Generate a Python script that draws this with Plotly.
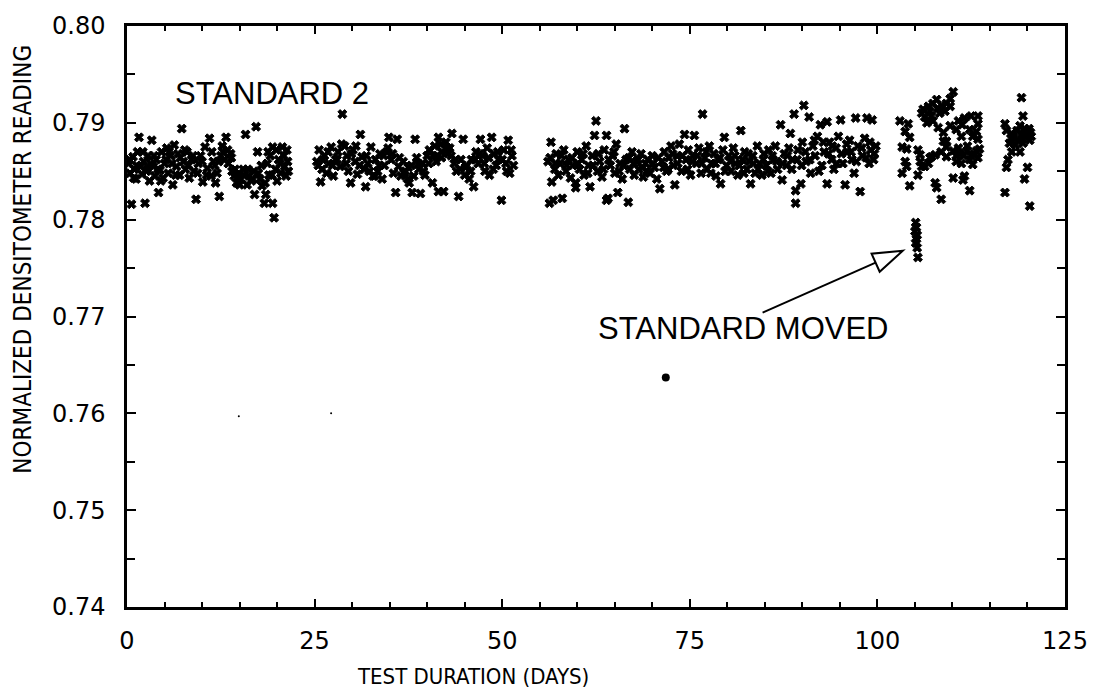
import plotly.graph_objects as go

# ---------------- data ----------------
seg_a_days = [0.2, 0.4, 0.6, 0.8, 1.0, 1.2, 1.4, 1.6, 1.8, 2.0, 2.2, 2.4, 2.6, 2.8, 3.0, 3.3, 3.5, 3.7, 3.9, 4.2,
              4.4, 4.6, 4.8, 5.0, 5.3, 5.5, 5.8, 6.1, 6.3, 6.6, 6.8, 7.0, 7.3, 7.5, 7.8, 8.0, 8.3, 8.6, 8.9, 9.2,
              9.5, 9.8, 10.1, 10.4, 10.7, 11.0, 11.2, 11.5, 11.8, 12.0, 12.3, 12.5, 12.8, 13.0, 13.2, 13.5, 13.8,
              14.0, 14.3, 14.6, 14.9, 15.2, 15.5, 15.8, 16.0, 16.3, 16.6, 16.9, 17.0, 17.2, 17.4, 17.7, 18.0,
              18.3, 18.5, 18.7, 18.9, 19.1, 19.4, 19.4, 19.6, 19.8, 20.0, 20.2, 20.5, 20.7, 21.0, 21.2, 21.4, 21.5,
              0.3, 0.9, 1.3, 2.1, 2.7, 3.1, 3.6, 4.1, 4.5, 5.2, 5.6, 6.0, 6.5, 7.1, 7.7, 8.2, 8.8, 9.4, 10.0, 10.6,
              11.3, 11.7, 12.2, 12.7, 13.4, 13.9, 14.4, 15.0, 15.6, 16.1, 16.7, 17.5, 17.9, 18.4, 18.8, 19.3, 19.9,
              20.4, 20.9, 21.3]
seg_a_vals = [0.7858, 0.7848, 0.7816, 0.7865, 0.7852, 0.7842, 0.7870, 0.7885, 0.7855, 0.7847, 0.7860, 0.7817,
              0.7850, 0.7866, 0.7840, 0.7882, 0.7855, 0.7845, 0.7862, 0.7828, 0.7851, 0.7870, 0.7843, 0.7858,
              0.7874, 0.7848, 0.7866, 0.7836, 0.7877, 0.7855, 0.7868, 0.7846, 0.7894, 0.7860, 0.7852, 0.7870,
              0.7843, 0.7862, 0.7850, 0.7821, 0.7858, 0.7866, 0.7839, 0.7875, 0.7853, 0.7884, 0.7845, 0.7860,
              0.7838, 0.7848, 0.7824, 0.7866, 0.7870, 0.7862, 0.7885, 0.7858, 0.7868, 0.7850, 0.7845, 0.7838,
              0.7848, 0.7842, 0.7852, 0.7888, 0.7836, 0.7845, 0.7840, 0.7850, 0.7826, 0.7896, 0.7870, 0.7842,
              0.7835, 0.7817, 0.7826, 0.7858, 0.7846, 0.7866, 0.7817, 0.7875, 0.7802, 0.7852, 0.7840, 0.7862,
              0.7848, 0.7875, 0.7855, 0.7845, 0.7860, 0.7850,
              0.7862, 0.7843, 0.7856, 0.7870, 0.7852, 0.7858, 0.7866, 0.7852, 0.7840, 0.7862, 0.7870, 0.7858,
              0.7846, 0.7864, 0.7872, 0.7856, 0.7866, 0.7848, 0.7860, 0.7846, 0.7870, 0.7856, 0.7860, 0.7876,
              0.7872, 0.7864, 0.7852, 0.7836, 0.7846, 0.7852, 0.7842, 0.7848, 0.7856, 0.7838, 0.7870, 0.7846,
              0.7872, 0.7858, 0.7866, 0.7872]

seg_b_days = [25.3, 25.6, 25.8, 26.0, 26.3, 26.6, 26.9, 27.2, 27.5, 27.8, 28.1, 28.4, 28.7, 29.0, 29.3, 29.5,
              29.8, 30.1, 30.4, 30.7, 31.1, 31.3, 31.6, 31.8, 32.1, 32.5, 32.8, 33.1, 33.4, 33.7, 34.0, 34.3,
              34.6, 34.9, 35.2, 35.5, 35.8, 36.0, 36.2, 36.5, 36.8, 37.1, 37.4, 37.6, 37.9, 38.0, 38.4, 38.6,
              38.9, 39.1, 39.4, 39.7, 40.0, 40.3, 40.7, 41.0, 41.3, 41.5, 41.5, 41.8, 42.0, 42.2, 42.5, 42.8,
              43.0, 43.3, 43.6, 43.9, 44.2, 44.5, 44.8, 45.0, 45.3, 45.6, 45.9, 46.2, 46.5, 46.8, 47.1, 47.4,
              47.7, 48.0, 48.3, 48.6, 48.9, 49.2, 49.5, 49.9, 50.2, 50.5, 50.8, 51.0, 51.3, 51.5,
              25.5, 26.1, 26.8, 27.4, 28.0, 28.6, 29.2, 29.9, 30.5, 31.0, 31.9, 32.3, 33.0, 33.6, 34.2, 34.8,
              35.4, 36.3, 36.9, 37.5, 38.2, 38.8, 39.5, 40.2, 40.8, 41.2, 41.9, 42.6, 43.2, 43.8, 44.4, 45.1,
              45.8, 46.4, 47.0, 47.6, 48.2, 48.8, 49.4, 50.0, 50.6, 51.2]
seg_b_vals = [0.7860, 0.7872, 0.7839, 0.7852, 0.7866, 0.7848, 0.7858, 0.7875, 0.7845, 0.7862, 0.7870, 0.7855,
              0.7909, 0.7876, 0.7866, 0.7850, 0.7838, 0.7872, 0.7860, 0.7847, 0.7888, 0.7865, 0.7852, 0.7834,
              0.7858, 0.7875, 0.7845, 0.7862, 0.7850, 0.7868, 0.7842, 0.7856, 0.7870, 0.7885, 0.7862, 0.7848,
              0.7828, 0.7883, 0.7855, 0.7845, 0.7860, 0.7850, 0.7842, 0.7838, 0.7856, 0.7828, 0.7883, 0.7864,
              0.7852, 0.7827, 0.7858, 0.7846, 0.7866, 0.7872, 0.7838, 0.7876, 0.7866, 0.7885, 0.7829, 0.7878,
              0.7870, 0.7829, 0.7880, 0.7868, 0.7874, 0.7889, 0.7858, 0.7850, 0.7824, 0.7862, 0.7883, 0.7846,
              0.7856, 0.7842, 0.7862, 0.7834, 0.7870, 0.7858, 0.7883, 0.7866, 0.7850, 0.7874, 0.7846, 0.7885,
              0.7868, 0.7856, 0.7862, 0.7820, 0.7872, 0.7858, 0.7882, 0.7848, 0.7866, 0.7856,
              0.7856, 0.7862, 0.7870, 0.7856, 0.7862, 0.7878, 0.7858, 0.7868, 0.7876, 0.7856, 0.7866, 0.7850,
              0.7845, 0.7856, 0.7866, 0.7874, 0.7868, 0.7864, 0.7848, 0.7854, 0.7845, 0.7858, 0.7850, 0.7858,
              0.7866, 0.7860, 0.7864, 0.7874, 0.7866, 0.7862, 0.7852, 0.7854, 0.7850, 0.7862, 0.7868, 0.7858,
              0.7864, 0.7852, 0.7870, 0.7862, 0.7850, 0.7872]

seg_c_days = [56.1, 56.3, 56.5, 56.6, 56.8, 57.0, 57.2, 57.5, 57.7, 58.0, 58.2, 58.5, 58.8, 59.1, 59.4, 59.8,
              59.8, 60.0, 60.3, 60.6, 60.9, 61.2, 61.5, 61.7, 62.0, 62.3, 62.5, 62.7, 63.0, 63.3, 63.6, 63.9,
              63.9, 64.1, 64.4, 64.7, 65.0, 65.2, 65.4, 65.7, 66.0, 66.3, 66.5, 66.8, 67.0, 67.3, 67.6, 67.9,
              68.2, 68.5, 68.8, 69.1, 69.4, 69.7, 70.0, 70.3, 70.6, 71.0, 71.3, 71.6, 71.9, 72.2, 72.5, 72.8,
              73.0, 73.3, 73.6, 73.9, 74.3, 74.5, 74.8, 75.1, 75.4, 75.6, 75.9, 76.2, 76.5, 76.7, 77.0, 77.3,
              77.6, 77.9, 78.2, 78.5, 78.8, 79.1, 79.4, 79.6, 79.9, 80.2, 80.5, 80.8, 81.1, 81.4, 81.8, 82.0,
              82.3, 82.6, 82.9, 83.1, 83.4, 83.7, 84.0, 84.3, 84.6, 84.9, 85.2, 85.5, 85.8, 86.1, 86.4, 86.7,
              87.1, 87.3, 87.6, 87.9, 88.2, 88.4, 88.7, 88.9, 89.1, 89.1, 89.4, 89.8, 90.0, 90.2, 90.5, 90.9,
              91.1, 91.4, 91.7, 92.0, 92.4, 92.6, 92.9, 93.3, 93.3, 93.6, 93.9, 94.2, 94.5, 94.8, 95.1, 95.4,
              95.7, 96.0, 96.3, 96.6, 96.9, 97.1, 97.4, 97.7, 98.0, 98.3, 98.6, 98.9, 99.1, 99.3, 99.5, 99.8,
              56.4, 57.1, 57.9, 58.6, 59.3, 60.1, 60.8, 61.4, 62.1, 62.8, 63.5, 64.2, 64.9, 65.6, 66.2, 66.9,
              67.5, 68.1, 68.7, 69.3, 70.1, 70.8, 71.5, 72.1, 72.7, 73.4, 74.0, 74.7, 75.3, 76.0, 76.6, 77.2,
              77.8, 78.4, 79.0, 79.7, 80.4, 81.0, 81.6, 82.2, 82.8, 83.5, 84.1, 84.8, 85.4, 86.0, 86.6, 87.4,
              88.0, 88.6, 89.3, 89.9, 90.4, 91.0, 91.6, 92.2, 92.8, 93.5, 94.0, 94.6, 95.2, 95.9, 96.5, 97.2,
              97.9, 98.5, 99.0, 99.6]
seg_c_vals = [0.7860, 0.7817, 0.7880, 0.7839, 0.7820, 0.7852, 0.7868, 0.7846, 0.7858, 0.7822, 0.7872, 0.7850,
              0.7862, 0.7843, 0.7856, 0.7833, 0.7838, 0.7870, 0.7852, 0.7862, 0.7846, 0.7876, 0.7856, 0.7834,
              0.7866, 0.7887, 0.7902, 0.7850, 0.7860, 0.7844, 0.7872, 0.7887, 0.7820, 0.7822, 0.7856, 0.7866,
              0.7848, 0.7878, 0.7828, 0.7858, 0.7842, 0.7894, 0.7862, 0.7818, 0.7852, 0.7870, 0.7846, 0.7860,
              0.7852, 0.7868, 0.7844, 0.7858, 0.7862, 0.7848, 0.7866, 0.7854, 0.7842, 0.7832, 0.7860, 0.7870,
              0.7850, 0.7864, 0.7876, 0.7856, 0.7836, 0.7866, 0.7878, 0.7850, 0.7888, 0.7862, 0.7872, 0.7846,
              0.7866, 0.7887, 0.7858, 0.7874, 0.7848, 0.7909, 0.7864, 0.7852, 0.7876, 0.7858, 0.7868, 0.7845,
              0.7862, 0.7837, 0.7872, 0.7885, 0.7856, 0.7866, 0.7850, 0.7874, 0.7858, 0.7846, 0.7892, 0.7862,
              0.7870, 0.7852, 0.7860, 0.7837, 0.7866, 0.7848, 0.7876, 0.7858, 0.7846, 0.7868, 0.7856, 0.7872,
              0.7848, 0.7862, 0.7876, 0.7852, 0.7898, 0.7841, 0.7868, 0.7856, 0.7874, 0.7889, 0.7862, 0.7909,
              0.7830, 0.7817, 0.7872, 0.7837, 0.7880, 0.7918, 0.7860, 0.7906, 0.7848, 0.7876, 0.7866, 0.7886,
              0.7898, 0.7856, 0.7870, 0.7901, 0.7837, 0.7880, 0.7862, 0.7852, 0.7874, 0.7886, 0.7903, 0.7858,
              0.7836, 0.7870, 0.7882, 0.7862, 0.7848, 0.7905, 0.7876, 0.7829, 0.7866, 0.7884, 0.7905, 0.7858,
              0.7872, 0.7903, 0.7862, 0.7876,
              0.7864, 0.7858, 0.7866, 0.7856, 0.7864, 0.7858, 0.7868, 0.7848, 0.7856, 0.7868, 0.7852, 0.7862,
              0.7870, 0.7850, 0.7856, 0.7864, 0.7858, 0.7862, 0.7854, 0.7850, 0.7858, 0.7864, 0.7854, 0.7852,
              0.7868, 0.7858, 0.7866, 0.7852, 0.7860, 0.7866, 0.7858, 0.7870, 0.7848, 0.7858, 0.7864, 0.7850,
              0.7860, 0.7866, 0.7856, 0.7848, 0.7868, 0.7858, 0.7852, 0.7862, 0.7850, 0.7866, 0.7860, 0.7858,
              0.7866, 0.7852, 0.7862, 0.7856, 0.7870, 0.7862, 0.7882, 0.7850, 0.7880, 0.7868, 0.7876, 0.7858,
              0.7868, 0.7878, 0.7870, 0.7860, 0.7874, 0.7864, 0.7880, 0.7868]

seg_d_days = [103.0, 104.1, 103.7, 104.3, 103.3, 103.9, 103.7, 103.9, 103.3, 104.3, 105.4, 105.4, 105.7,
              106.1, 106.8, 107.4, 107.9, 109.2, 109.7, 110.1, 109.7, 108.3, 106.6, 107.4, 108.1, 108.8, 109.7,
              110.5, 111.6, 112.5, 113.4, 113.4, 112.3, 113.2, 111.2, 112.7, 113.4, 108.8, 109.2, 108.5, 107.7,
              107.0, 106.3, 110.1, 111.0, 111.9, 113.2, 113.6, 110.5, 111.2, 112.3, 112.7, 111.6, 110.1, 107.7,
              107.9, 108.5, 111.4, 112.3, 105.7, 105.9, 106.8, 107.2, 105.9, 107.2, 109.2, 110.5, 113.4, 112.5,
              109.2, 108.0, 108.6, 107.0, 109.0, 110.8, 111.3, 106.3, 110.8, 111.5, 112.0, 112.9]
seg_d_vals = [0.7902, 0.7899, 0.7891, 0.7885, 0.7875, 0.7873, 0.7860, 0.7855, 0.7848, 0.7835, 0.7872, 0.7846,
              0.7860, 0.7914, 0.7917, 0.7920, 0.7924, 0.7920, 0.7925, 0.7932, 0.7917, 0.7910, 0.7900, 0.7902,
              0.7895, 0.7890, 0.7897, 0.7893, 0.7905, 0.7907, 0.7907, 0.7899, 0.7893, 0.7891, 0.7886, 0.7886,
              0.7883, 0.7881, 0.7875, 0.7870, 0.7867, 0.7864, 0.7855, 0.7871, 0.7868, 0.7871, 0.7871, 0.7873,
              0.7860, 0.7858, 0.7862, 0.7857, 0.7845, 0.7843, 0.7838, 0.7833, 0.7821, 0.7841, 0.7830, 0.7867,
              0.7855, 0.7858, 0.7865, 0.7910, 0.7907, 0.7881, 0.7866, 0.7864, 0.7866, 0.7865, 0.7915, 0.7918,
              0.7912, 0.7912, 0.7902, 0.7898, 0.7906, 0.7874, 0.7866, 0.7876, 0.7868]

moved_days = [105.1, 105.2, 105.0, 105.3, 105.2, 105.1, 105.3, 105.4]
moved_vals = [0.7797, 0.7792, 0.7788, 0.7784, 0.7780, 0.7776, 0.7771, 0.7761]

seg_e_days = [119.2, 119.4, 117.0, 117.2, 117.9, 118.6, 119.0, 119.6, 120.0, 120.5, 119.8, 119.2, 118.8,
              120.3, 117.6, 117.9, 119.0, 117.4, 117.2, 120.0, 119.6, 117.0, 120.3, 118.4, 119.4, 119.9,
              120.4, 120.2, 119.5, 118.2, 117.8]
seg_e_vals = [0.7926, 0.7907, 0.7899, 0.7892, 0.7889, 0.7892, 0.7897, 0.7894, 0.7891, 0.7886, 0.7885, 0.7888,
              0.7882, 0.7882, 0.7879, 0.7870, 0.7870, 0.7862, 0.7854, 0.7854, 0.7842, 0.7828, 0.7814, 0.7877,
              0.7879, 0.7889, 0.7890, 0.7894, 0.7888, 0.7885, 0.7884]

dot_days = [14.9, 27.2]
dot_vals = [0.7597, 0.7600]
blob_days = [71.8]
blob_vals = [0.7637]

x_ticks = [0, 25, 50, 75, 100, 125]
y_ticks = [0.74, 0.75, 0.76, 0.77, 0.78, 0.79, 0.80]

# ---------------- figure ----------------
W, H = 1100, 694
ML, MR, MT, MB = 127, 31, 19, 87
X0, X1 = 0, 125
Y0, Y1 = 0.74, 0.80
PW, PH = W - ML - MR, H - MT - MB

all_days = seg_a_days + seg_b_days + seg_c_days + seg_d_days + moved_days + seg_e_days
all_vals = seg_a_vals + seg_b_vals + seg_c_vals + seg_d_vals + moved_vals + seg_e_vals

fig = go.Figure()
fig.add_trace(go.Scatter(x=all_days, y=all_vals, mode="markers",
                         marker=dict(symbol="x", size=8, color="black",
                                     line=dict(width=1, color="black")),
                         showlegend=False, hoverinfo="skip"))
fig.add_trace(go.Scatter(x=dot_days, y=dot_vals, mode="markers",
                         marker=dict(symbol="circle", size=2, color="black"),
                         showlegend=False, hoverinfo="skip"))
fig.add_trace(go.Scatter(x=blob_days, y=blob_vals, mode="markers",
                         marker=dict(symbol="circle", size=8, color="black"),
                         showlegend=False, hoverinfo="skip"))

# helpers to express pixel offsets in data units (for the annotation arrow only)
dx_per_px = (X1 - X0) / PW
dy_per_px = (Y1 - Y0) / PH

tip_x, tip_y = 103.4, 0.7768          # arrow tip (data)
tail_x, tail_y = 84.7, 0.7704         # arrow tail (data)
vx = (tip_x - tail_x) / dx_per_px
vy = (tip_y - tail_y) / dy_per_px
L = (vx ** 2 + vy ** 2) ** 0.5
ux, uy = vx / L, vy / L
head_len, head_half = 30, 10
bx, by = -ux * head_len, -uy * head_len
px_, py_ = -uy * head_half, ux * head_half
c1 = (tip_x + (bx + px_) * dx_per_px, tip_y + (by + py_) * dy_per_px)
c2 = (tip_x + (bx - px_) * dx_per_px, tip_y + (by - py_) * dy_per_px)
bc = (tip_x + bx * dx_per_px, tip_y + by * dy_per_px)

fig.add_shape(type="line", x0=tail_x, y0=tail_y, x1=bc[0], y1=bc[1],
              xref="x", yref="y", line=dict(color="black", width=2))
fig.add_shape(type="path",
              path=f"M {tip_x},{tip_y} L {c1[0]},{c1[1]} L {c2[0]},{c2[1]} Z",
              xref="x", yref="y", line=dict(color="black", width=2), fillcolor="white")

label_font = dict(family="Liberation Sans, Arial, sans-serif", size=31, color="black")
fig.add_annotation(x=6.1, y=0.7930, xref="x", yref="y", text="STANDARD 2", showarrow=False,
                   xanchor="left", yanchor="middle", font=label_font)
fig.add_annotation(x=62.5, y=0.7688, xref="x", yref="y", text="STANDARD MOVED", showarrow=False,
                   xanchor="left", yanchor="middle", font=label_font)

title_font = dict(family="Liberation Sans Narrow, DejaVu Sans Condensed, Arial Narrow, sans-serif",
                  size=22, color="black")
fig.add_annotation(x=(474 - ML) / PW, y=-(677 - (MT + PH)) / PH, xref="paper", yref="paper",
                   text="TEST DURATION (DAYS)", showarrow=False, xanchor="center", yanchor="middle",
                   font=title_font)
fig.add_annotation(x=(23 - ML) / PW, y=((MT + PH) - 255) / PH, xref="paper", yref="paper",
                   text="NORMALIZED DENSITOMETER READING", showarrow=False, textangle=-90,
                   xanchor="center", yanchor="middle", font=dict(title_font, size=24))

tick_font = dict(family="DejaVu Sans, sans-serif", size=24, color="black")
fig.update_xaxes(range=[X0, X1], tickvals=x_ticks, ticktext=[str(v) for v in x_ticks],
                 ticks="inside", ticklen=8, tickwidth=2, tickcolor="black",
                 minor=dict(dtick=5, tick0=0, ticks="inside", ticklen=5, tickwidth=1.5, tickcolor="black"),
                 showline=True, linewidth=2.5, linecolor="black", mirror="ticks",
                 showgrid=False, zeroline=False, tickfont=tick_font, ticklabelstandoff=10)
fig.update_yaxes(range=[Y0, Y1], tickvals=y_ticks, ticktext=[f"{v:.2f}" for v in y_ticks],
                 ticks="inside", ticklen=9, tickwidth=2, tickcolor="black",
                 minor=dict(dtick=0.005, tick0=0.74, ticks="inside", ticklen=8, tickwidth=1.5, tickcolor="black"),
                 showline=True, linewidth=2.5, linecolor="black", mirror="ticks",
                 showgrid=False, zeroline=False, tickfont=tick_font, ticklabelstandoff=14)

fig.update_layout(width=W, height=H, margin=dict(l=ML, r=MR, t=MT, b=MB),
                  paper_bgcolor="white", plot_bgcolor="white")

fig.write_html("out.html", config={"displayModeBar": False})
